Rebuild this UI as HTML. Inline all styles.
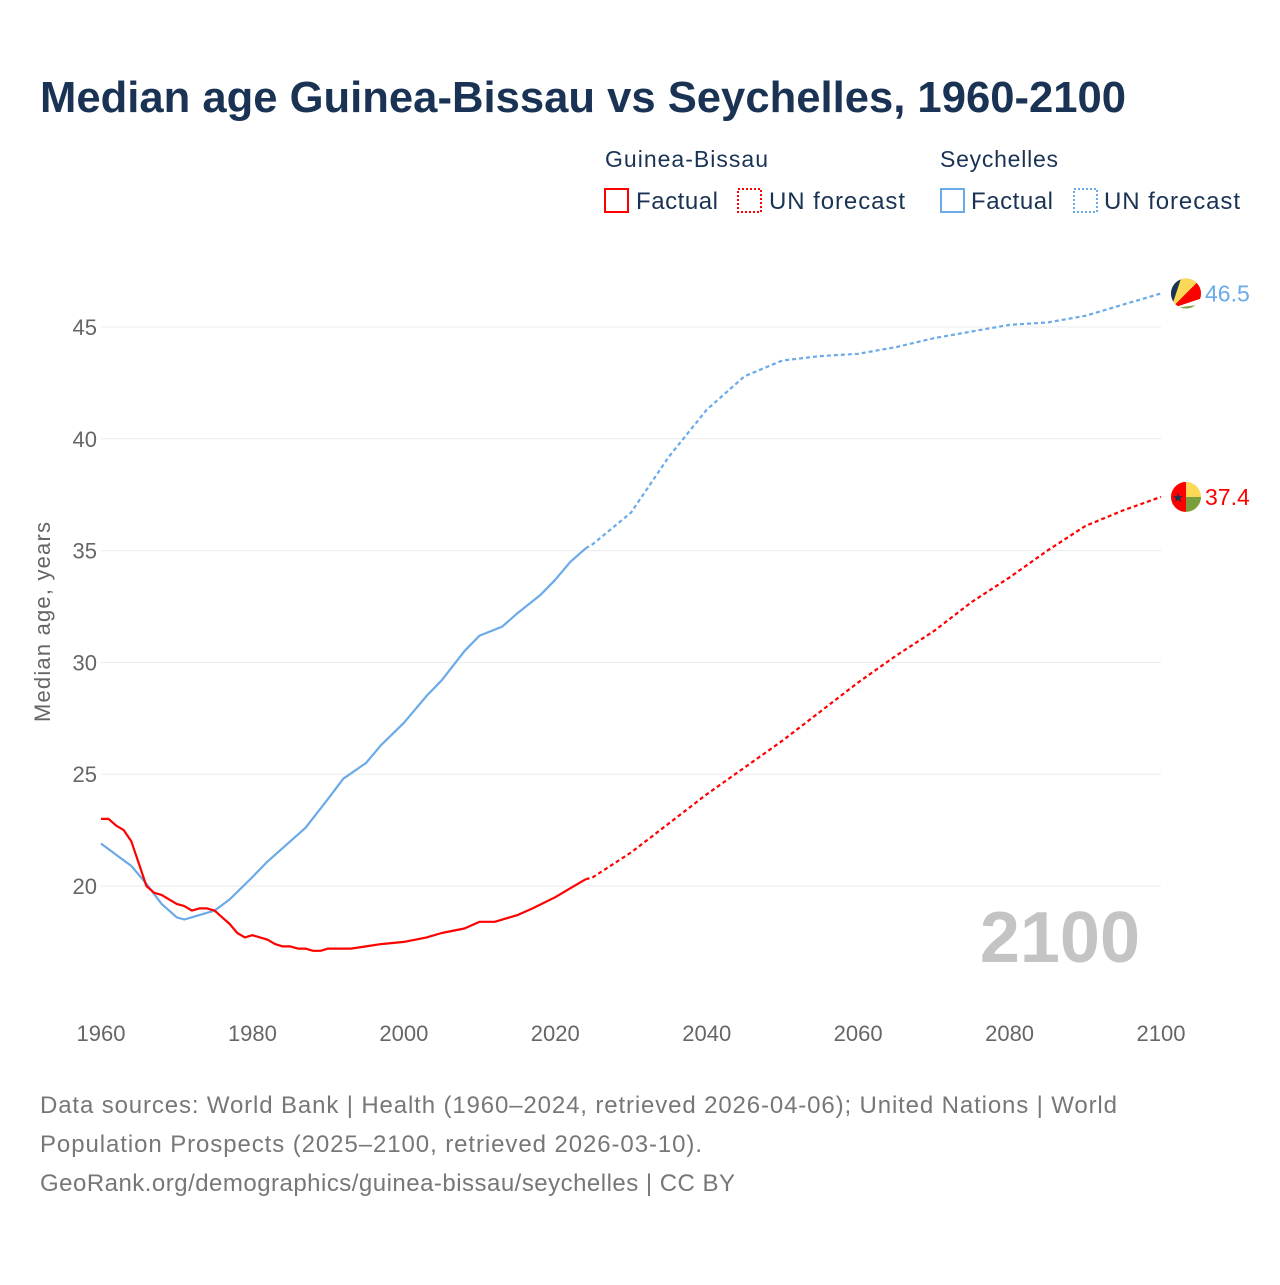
<!DOCTYPE html>
<html><head><meta charset="utf-8"><style>
body{margin:0;background:#fff;font-family:"Liberation Sans",sans-serif;}
svg text{font-family:"Liberation Sans",sans-serif;}
</style></head><body>
<svg id="chart" width="1280" height="1280" viewBox="0 0 1280 1280">
<text x="40" y="112" font-size="44" font-weight="bold" fill="#1a3354" textLength="1086" lengthAdjust="spacingAndGlyphs">Median age Guinea-Bissau vs Seychelles, 1960-2100</text>
<g>
<text x="605" y="167" font-size="23" fill="#1a3354" textLength="163">Guinea-Bissau</text>
<text x="940" y="167" font-size="23" fill="#1a3354" textLength="118">Seychelles</text>
<rect x="605" y="189" width="23" height="23" fill="none" stroke="#f00" stroke-width="2"/>
<text x="636" y="209" font-size="24" fill="#1a3354" textLength="82">Factual</text>
<rect x="738" y="189" width="23" height="23" fill="none" stroke="#f00" stroke-width="2" stroke-dasharray="2,2"/>
<text x="769" y="209" font-size="24" fill="#1a3354" textLength="136">UN forecast</text>
<rect x="941" y="189" width="23" height="23" fill="none" stroke="#6aaae8" stroke-width="2"/>
<text x="971" y="209" font-size="24" fill="#1a3354" textLength="82">Factual</text>
<rect x="1074" y="189" width="23" height="23" fill="none" stroke="#6aaae8" stroke-width="2" stroke-dasharray="2,2"/>
<text x="1104" y="209" font-size="24" fill="#1a3354" textLength="136">UN forecast</text>
</g>
<text transform="translate(50,622) rotate(-90)" text-anchor="middle" font-size="22" fill="#666" textLength="200">Median age, years</text>
<g id="grid"></g><g id="series"></g>
<text x="1140" y="962" text-anchor="end" font-size="72" font-weight="bold" fill="#c4c4c4">2100</text>
<g font-size="24" fill="#777">
<text x="40" y="1113" textLength="1077">Data sources: World Bank | Health (1960–2024, retrieved 2026-04-06); United Nations | World</text>
<text x="40" y="1152" textLength="662">Population Prospects (2025–2100, retrieved 2026-03-10).</text>
<text x="40" y="1191" textLength="695">GeoRank.org/demographics/guinea-bissau/seychelles | CC BY</text>
</g>
</svg>
<script>
const xTicks=[1960,1980,2000,2020,2040,2060,2080,2100];
const yTicks=[20,25,30,35,40,45];
const gbYears=[1960,1961,1962,1963,1964,1965,1966,1967,1968,1969,1970,1971,1972,1973,1974,1975,1976,1977,1978,1979,1980,1981,1982,1983,1984,1985,1986,1987,1988,1989,1990,1993,1995,1997,2000,2003,2005,2008,2010,2012,2015,2017,2020,2022,2024];
const gbValues=[23.0,23.0,22.7,22.5,22.0,21.0,20.0,19.7,19.6,19.4,19.2,19.1,18.9,19.0,19.0,18.9,18.6,18.3,17.9,17.7,17.8,17.7,17.6,17.4,17.3,17.3,17.2,17.2,17.1,17.1,17.2,17.2,17.3,17.4,17.5,17.7,17.9,18.1,18.4,18.4,18.7,19.0,19.5,19.9,20.3];
const gbFcYears=[2024,2025,2030,2035,2040,2045,2050,2055,2060,2065,2070,2075,2080,2085,2090,2095,2100];
const gbFcValues=[20.3,20.4,21.5,22.8,24.1,25.3,26.5,27.8,29.1,30.3,31.4,32.7,33.8,35.0,36.1,36.8,37.4];
const scYears=[1960,1962,1964,1966,1968,1970,1971,1973,1975,1977,1980,1982,1985,1987,1990,1992,1995,1997,2000,2003,2005,2008,2010,2013,2015,2018,2020,2022,2024];
const scValues=[21.9,21.4,20.9,20.1,19.2,18.6,18.5,18.7,18.9,19.4,20.4,21.1,22.0,22.6,23.9,24.8,25.5,26.3,27.3,28.5,29.2,30.5,31.2,31.6,32.2,33.0,33.7,34.5,35.1];
const scFcYears=[2024,2025,2030,2035,2040,2045,2050,2055,2060,2065,2070,2075,2080,2085,2090,2095,2100];
const scFcValues=[35.1,35.3,36.7,39.2,41.3,42.8,43.5,43.7,43.8,44.1,44.5,44.8,45.1,45.2,45.5,46.0,46.5];
const X=y=>101+(y-1960)*(1060/140);
const Y=v=>886-(v-20)*22.36;
const NS="http://www.w3.org/2000/svg";
const grid=document.getElementById('grid'),series=document.getElementById('series');
function mk(tag,attrs,parent){const e=document.createElementNS(NS,tag);for(const k in attrs)e.setAttribute(k,attrs[k]);parent.appendChild(e);return e;}
yTicks.forEach(t=>{
 const l=mk('line',{x1:101,x2:1161,y1:Y(t),y2:Y(t),stroke:'#ebebeb','stroke-width':1},grid);
 
 
 const tx=mk('text',{x:97,y:Y(t)+8,'text-anchor':'end','font-size':22,fill:'#666'},grid);tx.textContent=t;
 
 
});
xTicks.forEach(t=>{
 const tx=mk('text',{x:X(t),y:1041,'text-anchor':'middle','font-size':22,fill:'#666'},grid);tx.textContent=t;
 
 
});
function line(ys,vs,color,dash,name){
 const d=ys.map((y,i)=>(i?'L':'M')+X(y).toFixed(1)+','+Y(vs[i]).toFixed(1)).join('');
 const p=mk('path',{d:d,fill:'none',stroke:color,'stroke-width':2.2,'stroke-linejoin':'round'},series);
 if(dash)p.setAttribute('stroke-dasharray','4,3');
 
 
}
line(scYears,scValues,'#6aaae8',false,'seychelles-factual-line');
line(scFcYears,scFcValues,'#6aaae8',true,'seychelles-forecast-line');
line(gbYears,gbValues,'#f00',false,'guinea-bissau-factual-line');
line(gbFcYears,gbFcValues,'#f00',true,'guinea-bissau-forecast-line');
const scEnd=scFcValues[scFcValues.length-1],gbEnd=gbFcValues[gbFcValues.length-1];
const cx=1186;
const g1=mk('g',{},series);


const cy1=Y(scEnd);
mk('clipPath',{id:'c1'},g1);document.getElementById('c1').appendChild(document.createElementNS(NS,'circle'));
const c1=document.querySelector('#c1 circle');c1.setAttribute('cx',cx);c1.setAttribute('cy',cy1);c1.setAttribute('r',15);
const f1=mk('g',{'clip-path':'url(#c1)'},g1);const bx=cx-15,by=cy1+15;
mk('rect',{x:bx,y:cy1-15,width:30,height:30,fill:'#7a9e3c'},f1);
mk('polygon',{points:`${bx},${by} ${bx+30},${by-10} ${bx+30},${by-4}`,fill:'#fff'},f1);
mk('polygon',{points:`${bx},${by} ${bx+30},${by-30} ${bx+30},${by-10}`,fill:'#f00'},f1);
mk('polygon',{points:`${bx},${by} ${bx+10},${by-30} ${bx+30},${by-30}`,fill:'#fcd856'},f1);
mk('polygon',{points:`${bx},${by} ${bx},${by-30} ${bx+10},${by-30}`,fill:'#1a3354'},f1);
const t1=mk('text',{x:1205,y:cy1+8,'font-size':23,fill:'#6aaae8'},series);t1.textContent=scEnd.toFixed(1);


const g2=mk('g',{},series);


const cy2=Y(gbEnd);
mk('clipPath',{id:'c2'},g2);const cc=document.createElementNS(NS,'circle');document.getElementById('c2').appendChild(cc);
cc.setAttribute('cx',cx);cc.setAttribute('cy',cy2);cc.setAttribute('r',15);
const f2=mk('g',{'clip-path':'url(#c2)'},g2);
mk('rect',{x:cx-15,y:cy2-15,width:30,height:15,fill:'#fcd856'},f2);
mk('rect',{x:cx-15,y:cy2,width:30,height:15,fill:'#7a9e3c'},f2);
mk('rect',{x:cx-15,y:cy2-15,width:15,height:30,fill:'#f00'},f2);
const s=mk('text',{x:cx-8,y:cy2+5,'text-anchor':'middle','font-size':13,fill:'#1a3354'},f2);s.textContent='★';
const t2=mk('text',{x:1205,y:cy2+8,'font-size':23,fill:'#f00'},series);t2.textContent=gbEnd.toFixed(1);


</script>
</body></html>
